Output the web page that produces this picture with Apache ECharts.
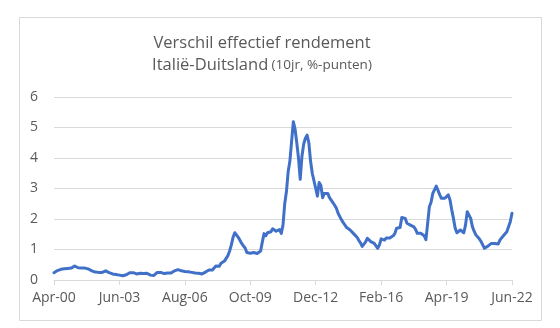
<!DOCTYPE html>
<html>
<head>
<meta charset="utf-8">
<script src="https://cdn.jsdelivr.net/npm/echarts@6/dist/echarts.min.js"></script>
<style>
  html, body { margin: 0; padding: 0; background: #ffffff; }
  #chart { width: 560px; height: 328px; }
</style>
</head>
<body>
<div id="chart"></div>
<script>
// Monthly 10-year yield spread Italy minus Germany (percentage points), Apr-2000 .. Jun-2022
const startYear = 2000;
const startMonth = 3; // April (0-based)
const monthNames = ['Jan', 'Feb', 'Mar', 'Apr', 'May', 'Jun', 'Jul', 'Aug', 'Sep', 'Oct', 'Nov', 'Dec'];

const tickLabels = ['Apr-00', 'Jun-03', 'Aug-06', 'Oct-09', 'Dec-12', 'Feb-16', 'Apr-19', 'Jun-22'];
const yTicks = [0, 1, 2, 3, 4, 5, 6];

const spread = [
  // 2000 Apr-Dec
  0.24, 0.28, 0.31, 0.33, 0.35, 0.36, 0.37, 0.38, 0.38,
  // 2001
  0.40, 0.39, 0.42, 0.46, 0.42, 0.40, 0.41, 0.39, 0.40, 0.39, 0.38, 0.36,
  // 2002
  0.33, 0.30, 0.27, 0.26, 0.25, 0.25, 0.25, 0.25, 0.26, 0.30, 0.28, 0.24,
  // 2003
  0.21, 0.20, 0.21, 0.18, 0.19, 0.16, 0.14, 0.14, 0.15, 0.17, 0.19, 0.24,
  // 2004
  0.26, 0.24, 0.23, 0.20, 0.19, 0.22, 0.24, 0.21, 0.18, 0.22, 0.19, 0.16,
  // 2005
  0.14, 0.15, 0.20, 0.25, 0.28, 0.25, 0.22, 0.21, 0.22, 0.23, 0.24, 0.23,
  // 2006
  0.25, 0.30, 0.33, 0.34, 0.32, 0.30, 0.29, 0.28, 0.27, 0.27, 0.26, 0.25,
  // 2007
  0.24, 0.23, 0.22, 0.22, 0.21, 0.20, 0.22, 0.26, 0.30, 0.33, 0.34, 0.33,
  // 2008
  0.38, 0.46, 0.52, 0.45, 0.55, 0.58, 0.62, 0.68, 0.80, 0.95, 1.15, 1.40,
  // 2009
  1.55, 1.50, 1.40, 1.30, 1.20, 1.12, 1.05, 0.90, 0.88, 0.88, 0.86, 0.90,
  // 2010
  0.88, 0.87, 0.92, 0.95, 1.25, 1.52, 1.45, 1.55, 1.50, 1.58, 1.68, 1.70,
  // 2011
  1.60, 1.55, 1.65, 1.53, 1.80, 2.50, 2.90, 3.55, 3.90, 3.96, 5.19, 4.95,
  // 2012
  4.50, 4.00, 3.30, 4.05, 4.45, 4.65, 4.75, 4.50, 3.90, 3.50, 3.45, 3.00,
  // 2013
  2.75, 3.20, 3.10, 2.70, 2.84, 2.84, 2.84, 2.70, 2.62, 2.57, 2.45, 2.35,
  // 2014
  2.19, 2.08, 1.97, 1.88, 1.80, 1.72, 1.70, 1.64, 1.60, 1.52, 1.48, 1.40,
  // 2015
  1.30, 1.22, 1.10, 1.15, 1.25, 1.37, 1.32, 1.26, 1.24, 1.20, 1.12, 1.04,
  // 2016
  1.15, 1.35, 1.33, 1.31, 1.38, 1.42, 1.38, 1.37, 1.45, 1.53, 1.70, 1.75,
  // 2017
  1.72, 2.05, 2.08, 2.02, 1.86, 1.82, 1.80, 1.76, 1.74, 1.66, 1.53, 1.52,
  // 2018
  1.53, 1.50, 1.45, 1.32, 1.85, 2.40, 2.55, 2.84, 2.79, 3.08, 3.06, 2.80,
  // 2019
  2.68, 2.73, 2.68, 2.72, 2.79, 2.62, 2.30, 2.02, 1.70, 1.55, 1.60, 1.64,
  // 2020
  1.62, 1.55, 1.80, 2.24, 2.27, 2.02, 1.75, 1.60, 1.48, 1.42, 1.35, 1.27,
  // 2021
  1.15, 1.04, 1.08, 1.11, 1.16, 1.20, 1.19, 1.20, 1.19, 1.18, 1.31, 1.38,
  // 2022 Jan-Jun
  1.45, 1.48, 1.58, 1.58, 1.91, 2.19
];

// Month category names such as "Apr-00"
const months = spread.map((_, i) => {
  const total = startMonth + i;
  const y = startYear + Math.floor(total / 12);
  const m = total % 12;
  return monthNames[m] + '-' + String(y % 100).padStart(2, '0');
});

const textColor = '#595959';
const gridColor = '#d9d9d9';
const lineColor = '#4070c8';
const fontFamily = '"Open Sans", "Noto Sans", sans-serif';

const chart = echarts.init(document.getElementById('chart'), null, { renderer: 'canvas' });

chart.setOption({
  backgroundColor: '#ffffff',
  animation: false,
  textStyle: { fontFamily: fontFamily },
  graphic: [
    {
      type: 'rect',
      silent: true,
      shape: { x: 19.5, y: 17.5, width: 522, height: 303 },
      style: { fill: 'none', stroke: gridColor, lineWidth: 1 }
    },
    {
      type: 'text',
      silent: true,
      x: 262,
      y: 43,
      style: {
        text: 'Verschil effectief rendement',
        fill: textColor,
        font: '16.5px ' + fontFamily,
        align: 'center',
        verticalAlign: 'middle'
      }
    },
    {
      type: 'text',
      silent: true,
      x: 262,
      y: 65,
      style: {
        text: '{a|Italië-Duitsland} {b|(10jr, %-punten)}',
        fill: textColor,
        align: 'center',
        verticalAlign: 'middle',
        rich: {
          a: { fontSize: 16.5, fontFamily: fontFamily, fill: textColor, verticalAlign: 'bottom' },
          b: { fontSize: 13.5, fontFamily: fontFamily, fill: textColor, verticalAlign: 'bottom', padding: [0, 0, 1, 0] }
        }
      }
    }
  ],
  grid: { left: 54, right: 48, top: 97, bottom: 48, containLabel: false },
  xAxis: {
    type: 'category',
    data: months,
    boundaryGap: false,
    axisLine: { show: true, lineStyle: { color: gridColor, width: 1 } },
    axisTick: { show: true, interval: 37, length: 5, lineStyle: { color: gridColor } },
    axisLabel: {
      interval: 37,
      color: textColor,
      fontSize: 14,
      margin: 11,
      formatter: v => (tickLabels.includes(v) ? v : '')
    },
    splitLine: { show: false }
  },
  yAxis: {
    type: 'value',
    min: yTicks[0],
    max: yTicks[yTicks.length - 1],
    interval: 1,
    axisLine: { show: false },
    axisTick: { show: false },
    axisLabel: { color: textColor, fontSize: 14, margin: 16 },
    splitLine: { lineStyle: { color: gridColor, width: 1 } }
  },
  series: [
    {
      type: 'line',
      data: spread,
      showSymbol: false,
      symbol: 'none',
      lineStyle: { color: lineColor, width: 3, join: 'round', cap: 'round' },
      z: 3
    }
  ]
});
</script>
</body>
</html>
